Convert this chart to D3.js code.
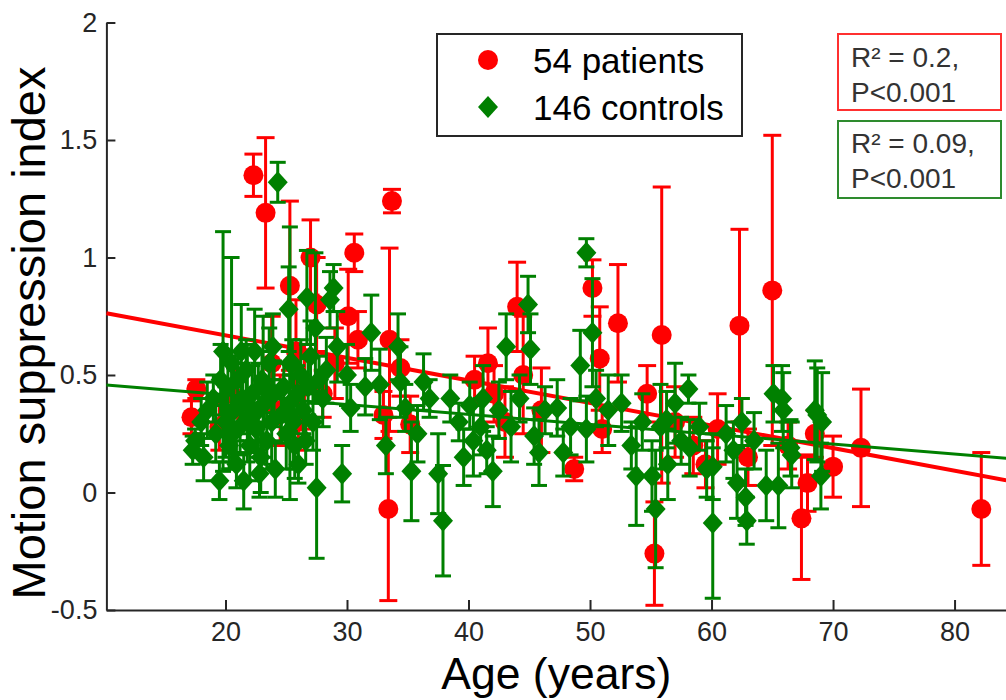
<!DOCTYPE html>
<html>
<head>
<meta charset="utf-8">
<script src="https://cdn.jsdelivr.net/npm/d3@7"></script>
<style>
  html, body { margin: 0; padding: 0; background: #fff; }
  svg { display: block; font-family: "Liberation Sans", Arial, sans-serif; }
</style>
</head>
<body>
<svg id="chart" width="1006" height="700"></svg>
<script>
// Patients: age (years), motion suppression index, error-bar half-length
const patientAge = [17.2, 17.6, 19.5, 21.0, 22.3, 23.3, 23.8, 24.5, 25.3, 25.8,
  26.5, 27.0, 27.5, 28.0, 29.0, 30.1, 30.6, 30.9, 33.0, 33.4,
  33.5, 33.7, 34.4, 35.2, 40.5, 41.6, 42.1, 43.0, 44.0, 44.5,
  46.0, 48.7, 50.2, 50.8, 51.0, 52.3, 54.7, 55.3, 55.9, 57.0,
  58.5, 59.5, 60.5, 62.3, 63.0, 65.0, 66.3, 67.4, 67.9, 68.5,
  70.0, 72.3, 82.2, 26.0];
const patientMSI = [0.32, 0.44, 0.28, 0.40, 1.35, 1.19, 0.55, 0.35, 0.88, 0.60,
  0.45, 1.00, 0.80, 0.42, 0.55, 0.75, 1.02, 0.65, 0.33, -0.07,
  0.65, 1.24, 0.53, 0.29, 0.48, 0.55, 0.42, 0.30, 0.79, 0.50,
  0.35, 0.10, 0.87, 0.57, 0.27, 0.72, 0.42, -0.26, 0.67, 0.30,
  0.20, 0.12, 0.27, 0.71, 0.15, 0.86, 0.20, -0.11, 0.04, 0.25,
  0.11, 0.19, -0.07, 0.30];
const patientErr = [0.07, 0.04, 0.10, 0.12, 0.09, 0.32, 0.20, 0.15, 0.36, 0.22,
  0.18, 0.16, 0.20, 0.10, 0.15, 0.20, 0.08, 0.12, 0.10, 0.39,
  0.39, 0.05, 0.12, 0.12, 0.10, 0.15, 0.12, 0.15, 0.19, 0.25,
  0.18, 0.05, 0.12, 0.22, 0.10, 0.25, 0.12, 0.22, 0.63, 0.15,
  0.12, 0.10, 0.15, 0.41, 0.12, 0.66, 0.10, 0.26, 0.12, 0.10,
  0.13, 0.25, 0.24, 0.12];

// Controls: age (years), motion suppression index, error-bar half-length
const controlAge = [17.3, 17.5, 18.0, 18.5, 19.0, 19.2, 19.5, 19.8, 20.0, 20.2,
  20.3, 20.5, 20.7, 20.9, 21.0, 21.2, 21.4, 21.5, 21.7, 21.9,
  22.0, 22.2, 22.4, 22.5, 22.7, 22.9, 23.0, 23.2, 23.4, 23.6,
  23.8, 24.0, 24.1, 24.3, 25.3, 24.6, 24.8, 25.0, 25.2, 25.3,
  25.5, 25.7, 25.9, 26.0, 26.2, 26.4, 26.7, 26.8, 27.0, 27.2,
  27.4, 27.5, 27.7, 28.0, 28.3, 28.6, 28.9, 29.2, 29.6, 30.0,
  30.3, 18.2, 19.6, 21.3, 22.8, 23.9, 25.6, 26.6, 20.6, 21.8,
  23.1,
  31.5, 32.0, 32.7, 33.2, 34.2, 34.4, 34.8, 35.3, 35.8, 36.3,
  36.8, 37.5, 37.9, 38.5, 39.2, 39.6, 40.1, 40.4, 41.0, 41.2,
  41.5, 42.0, 42.5, 43.1, 43.5, 44.2, 44.9, 45.1, 45.4, 45.8,
  46.3, 47.3, 47.8, 48.4, 49.2, 49.7, 49.7, 50.2, 50.5,
  52.6, 53.4, 53.8, 54.3, 55.1, 55.4, 55.8, 56.3, 56.4, 57.0,
  57.5, 58.1, 58.2, 59.0, 59.6, 60.1, 60.1, 61.2, 61.8, 62.1,
  62.5, 62.8, 62.9, 63.5, 64.5, 65.1, 65.5, 65.8, 65.9, 66.5,
  66.6, 68.5, 68.7, 69.1, 69.0, 51.5];
const controlMSI = [0.18, 0.22, 0.30, 0.35, 0.40, 0.25, 0.05, 0.60, 0.30, 0.45,
  0.20, 0.55, 0.35, 0.12, 0.48, 0.28, 0.40, 0.05, 0.52, 0.32,
  0.20, 0.42, 0.60, 0.27, 0.35, 0.15, 0.48, 0.38, 0.22, 0.55,
  0.30, 0.42, 0.10, 1.32, 0.55, 0.33, 0.45, 0.25, 0.78, 0.38,
  0.55, 0.20, 0.42, 0.12, 0.50, 0.35, 0.83, 0.45, 0.58, 0.30,
  0.70, 0.02, 0.48, 0.40, 0.52, 0.82, 0.87, 0.62, 0.08, 0.50,
  0.36, 0.15, 0.48, 0.60, 0.08, 0.62, 0.30, 0.22, 0.25, 0.38,
  0.45,
  0.45, 0.68, 0.46, 0.20, 0.62, 0.47, 0.36, 0.09, 0.25, 0.47,
  0.40, 0.08, -0.12, 0.40, 0.30, 0.15, 0.37, 0.22, 0.28, 0.40,
  0.18, 0.09, 0.35, 0.62, 0.28, 0.40, 0.80, 0.61, 0.24, 0.17,
  0.35, 0.36, 0.17, 0.28, 0.54, 1.02, 0.27, 0.68, 0.40,
  0.38, 0.20, 0.07, 0.30, 0.07, -0.07, 0.28, 0.31, 0.12, 0.38,
  0.22, 0.44, 0.19, 0.28, 0.10, 0.11, -0.13, 0.25, 0.18, 0.04,
  0.30, -0.02, -0.12, 0.22, 0.03, 0.42, 0.03, 0.40, 0.35, 0.19,
  0.16, 0.35, 0.33, 0.30, 0.07, 0.35];
const controlErr = [0.06, 0.05, 0.10, 0.12, 0.10, 0.12, 0.08, 0.51, 0.15, 0.12,
  0.10, 0.45, 0.18, 0.10, 0.10, 0.12, 0.15, 0.12, 0.13, 0.10,
  0.15, 0.12, 0.18, 0.10, 0.20, 0.15, 0.12, 0.10, 0.12, 0.15,
  0.18, 0.14, 0.12, 0.085, 0.58, 0.12, 0.10, 0.15, 0.18, 0.12,
  0.10, 0.14, 0.12, 0.08, 0.15, 0.10, 0.20, 0.12, 0.15, 0.12,
  0.32, 0.30, 0.10, 0.12, 0.14, 0.12, 0.10, 0.15, 0.12, 0.13,
  0.10, 0.10, 0.15, 0.20, 0.10, 0.14, 0.20, 0.10, 0.12, 0.25,
  0.30,
  0.12, 0.16, 0.15, 0.12, 0.14, 0.15, 0.10, 0.21, 0.12, 0.12,
  0.08, 0.17, 0.235, 0.10, 0.08, 0.12, 0.10, 0.15, 0.12, 0.14,
  0.10, 0.15, 0.12, 0.14, 0.15, 0.10, 0.12, 0.15, 0.12, 0.14,
  0.10, 0.12, 0.10, 0.12, 0.15, 0.06, 0.14, 0.23, 0.12,
  0.12, 0.10, 0.21, 0.12, 0.15, 0.25, 0.18, 0.12, 0.15, 0.17,
  0.10, 0.06, 0.12, 0.10, 0.12, 0.14, 0.32, 0.12, 0.12, 0.15,
  0.10, 0.12, 0.10, 0.12, 0.15, 0.12, 0.18, 0.14, 0.16, 0.12,
  0.14, 0.21, 0.20, 0.21, 0.14, 0.15];

// Linear fits (intercept at age 0, slope per year)
const fitIntercept = [0.861, 0.500];
const fitSlope = [-0.0096, -0.0042];

const xTicks = [20, 30, 40, 50, 60, 70, 80];
const yTicks = [-0.5, 0, 0.5, 1, 1.5, 2];
const legendLabels = ["54 patients", "146 controls"];
const statLines = [["R\u00B2 = 0.2,", "P<0.001"], ["R\u00B2 = 0.09,", "P<0.001"]];

const RED = "#ff0000", GREEN = "#008000", INK = "#262626";

const svg = d3.select("#chart");

const x = d3.scaleLinear().domain([10.2, 84.25]).range([106.4, 1006.2]);
const y = d3.scaleLinear().domain([-0.5, 2]).range([610, 22.5]);

// Axes (ticks point into the plot area)
const gx = svg.append("g").attr("transform", `translate(0,${y(-0.5)})`)
  .call(d3.axisBottom(x).tickValues(xTicks).tickFormat(d => String(d))
    .tickSize(-10).tickSizeOuter(0).tickPadding(12));
const gy = svg.append("g").attr("transform", `translate(${x(10.2)},0)`)
  .call(d3.axisLeft(y).tickValues(yTicks).tickFormat(d => String(d))
    .tickSize(-9).tickSizeOuter(0).tickPadding(9));
[gx, gy].forEach(g => {
  g.select(".domain").attr("stroke", INK).attr("stroke-width", 2);
  g.selectAll(".tick line").attr("stroke", INK).attr("stroke-width", 2);
  g.selectAll(".tick text").attr("fill", INK).style("font-size", "27px")
    .style("font-family", "'Liberation Sans', Arial, sans-serif");
});

const [r0, r1] = x.range();
svg.append("text").attr("x", (r0 + r1) / 2).attr("y", 689)
  .attr("text-anchor", "middle").attr("fill", "#000")
  .style("font-size", "44.5px").text("Age (years)");
svg.append("text").attr("transform", "translate(45,333) rotate(-90)")
  .attr("text-anchor", "middle").attr("fill", "#000")
  .style("font-size", "47px").text("Motion suppression index");

const plot = svg.append("g");

function drawErrorBars(g, ages, vals, errs, color, capHalf) {
  const idx = d3.range(ages.length);
  const eb = g.append("g").attr("stroke", color).attr("stroke-width", 3).attr("fill", "none");
  eb.selectAll("line.v").data(idx).join("line").attr("class", "v")
    .attr("x1", i => x(ages[i])).attr("x2", i => x(ages[i]))
    .attr("y1", i => y(vals[i] - errs[i])).attr("y2", i => y(vals[i] + errs[i]));
  eb.selectAll("line.t").data(idx).join("line").attr("class", "t")
    .attr("x1", i => x(ages[i]) - capHalf).attr("x2", i => x(ages[i]) + capHalf)
    .attr("y1", i => y(vals[i] + errs[i])).attr("y2", i => y(vals[i] + errs[i]));
  eb.selectAll("line.b").data(idx).join("line").attr("class", "b")
    .attr("x1", i => x(ages[i]) - capHalf).attr("x2", i => x(ages[i]) + capHalf)
    .attr("y1", i => y(vals[i] - errs[i])).attr("y2", i => y(vals[i] - errs[i]));
}

const diamond = "M0,-11L10,0L0,11L-10,0Z";

function drawFit(k, color, width) {
  const [a, b] = x.domain();
  plot.append("line")
    .attr("x1", x(a)).attr("y1", y(fitIntercept[k] + fitSlope[k] * a))
    .attr("x2", x(b)).attr("y2", y(fitIntercept[k] + fitSlope[k] * b))
    .attr("stroke", color).attr("stroke-width", width);
}

// Patients
drawErrorBars(plot, patientAge, patientMSI, patientErr, RED, 9);
plot.append("g").selectAll("circle").data(d3.range(patientAge.length)).join("circle")
  .attr("cx", i => x(patientAge[i])).attr("cy", i => y(patientMSI[i]))
  .attr("r", 10).attr("fill", RED);
drawFit(0, RED, 4);

// Controls
drawErrorBars(plot, controlAge, controlMSI, controlErr, GREEN, 8);
plot.append("g").selectAll("path").data(d3.range(controlAge.length)).join("path")
  .attr("transform", i => `translate(${x(controlAge[i])},${y(controlMSI[i])})`)
  .attr("d", diamond).attr("fill", GREEN);
drawFit(1, GREEN, 3);

// Legend
const lg = svg.append("g");
lg.append("rect").attr("x", 437).attr("y", 34).attr("width", 305).attr("height", 102)
  .attr("fill", "#fff").attr("stroke", INK).attr("stroke-width", 2);
lg.append("circle").attr("cx", 488).attr("cy", 60).attr("r", 10).attr("fill", RED);
lg.append("path").attr("transform", "translate(488,107)").attr("d", diamond).attr("fill", GREEN);
lg.selectAll("text").data(legendLabels).join("text")
  .attr("x", 533).attr("y", (d, i) => [73, 120][i])
  .attr("fill", "#000").style("font-size", "35px").text(d => d);

// Fit statistics
const boxes = [
  {y: 34, h: 76, color: "#ff3030", base: [67, 102]},
  {y: 121, h: 77, color: "#2e8b2e", base: [153, 188]}
];
boxes.forEach((bx, k) => {
  const g = svg.append("g");
  g.append("rect").attr("x", 838).attr("y", bx.y).attr("width", 163).attr("height", bx.h)
    .attr("fill", "#fff").attr("stroke", bx.color).attr("stroke-width", 2);
  g.selectAll("text").data(statLines[k]).join("text")
    .attr("x", 851).attr("y", (d, i) => bx.base[i])
    .attr("fill", "#333").style("font-size", "28px").text(d => d);
});
</script>
</body>
</html>
